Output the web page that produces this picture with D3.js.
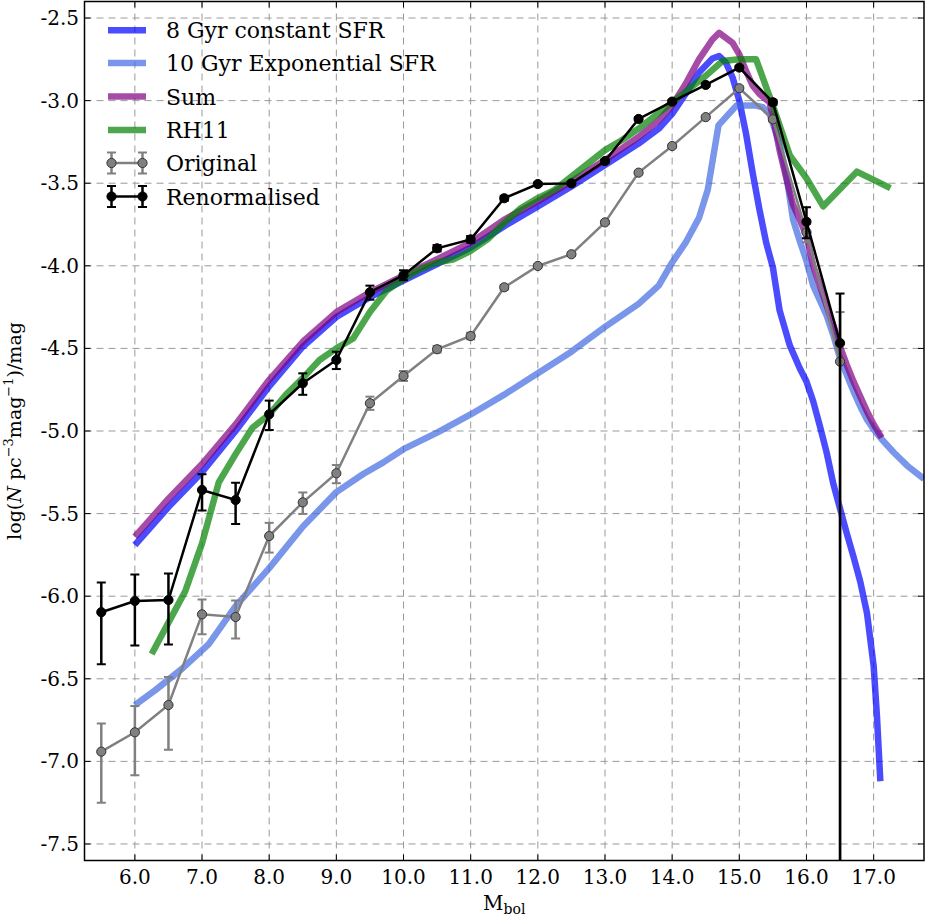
<!DOCTYPE html>
<html><head><meta charset="utf-8">
<script src="https://cdn.jsdelivr.net/npm/d3@7"></script>
<style>
body{margin:0;background:#fff}
svg{display:block}
</style>
</head><body>
<svg id="chart" width="926" height="917" font-family="DejaVu Serif"></svg>
<script>
// ---------- data ----------
const xTickValues = [6,7,8,9,10,11,12,13,14,15,16,17];
const yTickValues = [-2.5,-3.0,-3.5,-4.0,-4.5,-5.0,-5.5,-6.0,-6.5,-7.0,-7.5];

const seriesNames = ["8 Gyr constant SFR","10 Gyr Exponential SFR","Sum","RH11","Original","Renormalised"];

// observed luminosity function bins
const obsMag = [5.5,6.0,6.5,7.0,7.5,8.0,8.5,9.0,9.5,10.0,10.5,11.0,11.5,12.0,12.5,13.0,13.5,14.0,14.5,15.0,15.5,16.0,16.5];

const renormY      = [-6.097,-6.029,-6.023,-5.357,-5.418,-4.899,-4.711,-4.570,-4.160,-4.057,-3.894,-3.840,-3.591,-3.505,-3.501,-3.366,-3.111,-3.006,-2.905,-2.800,-3.010,-3.733,-4.468];
const renormErrUp  = [0.18,0.16,0.16,0.095,0.105,0.083,0.06,0.05,0.04,0.03,0.02,0.02,0.015,0.01,0.01,0.01,0.01,0.01,0.01,0.01,0.015,0.087,0.30];
const renormErrDn  = [0.315,0.27,0.27,0.125,0.145,0.095,0.07,0.055,0.045,0.03,0.02,0.02,0.015,0.01,0.01,0.01,0.01,0.01,0.01,0.01,0.015,0.10,5.0];

const origY        = [-6.941,-6.824,-6.659,-6.110,-6.126,-5.636,-5.432,-5.256,-4.832,-4.667,-4.505,-4.425,-4.130,-4.001,-3.930,-3.737,-3.436,-3.275,-3.100,-2.925,-3.113,-3.797,-4.580];
const origErrUp    = [0.17,0.16,0.17,0.09,0.10,0.08,0.06,0.05,0.04,0.03,0.02,0.02,0.015,0.01,0.01,0.01,0.01,0.01,0.01,0.01,0.015,0.05,0.30];
const origErrDn    = [0.31,0.26,0.27,0.12,0.13,0.10,0.07,0.06,0.04,0.03,0.02,0.02,0.015,0.01,0.01,0.01,0.01,0.01,0.01,0.01,0.015,0.06,5.0];

// model: 8 Gyr constant SFR
const constMag = [6.0,6.5,7.0,7.5,8.0,8.5,9.0,9.5,10.0,10.5,11.0,11.5,12.0,12.5,13.0,13.5,13.8,14.0,14.2,14.4,14.6,14.7,14.8,14.9,15.0,15.1,15.2,15.3,15.4,15.5,15.6,15.75,15.9,16.0,16.1,16.2,16.3,16.4,16.5,16.6,16.7,16.8,16.9,17.0,17.05,17.1];
const constY   = [-5.69,-5.46,-5.25,-5.00,-4.73,-4.49,-4.31,-4.19,-4.09,-3.99,-3.89,-3.76,-3.64,-3.52,-3.39,-3.26,-3.17,-3.08,-2.96,-2.83,-2.745,-2.73,-2.77,-2.86,-3.00,-3.20,-3.44,-3.66,-3.86,-4.01,-4.27,-4.48,-4.62,-4.70,-4.82,-4.97,-5.13,-5.32,-5.47,-5.62,-5.76,-5.91,-6.10,-6.42,-6.73,-7.12];

// model: 10 Gyr exponential SFR
const expMag = [6.0,6.3,6.7,7.1,7.5,8.0,8.5,9.0,9.4,9.7,10.0,10.5,11.0,11.5,12.0,12.5,13.0,13.5,13.8,14.0,14.2,14.4,14.53,14.69,14.8,14.96,15.1,15.25,15.35,15.45,15.6,15.7,15.8,15.9,16.0,16.1,16.2,16.3,16.4,16.5,16.6,16.7,16.8,16.9,17.0,17.12,17.3,17.5,17.75];
const expY   = [-6.66,-6.57,-6.44,-6.29,-6.06,-5.83,-5.58,-5.37,-5.26,-5.19,-5.11,-5.01,-4.90,-4.78,-4.65,-4.52,-4.37,-4.23,-4.12,-3.98,-3.86,-3.71,-3.54,-3.15,-3.10,-3.03,-3.03,-3.03,-3.04,-3.08,-3.26,-3.45,-3.72,-3.85,-3.97,-4.12,-4.21,-4.30,-4.42,-4.56,-4.66,-4.76,-4.85,-4.93,-4.99,-5.05,-5.13,-5.21,-5.29];

// model: sum
const sumMag = [6.0,6.5,7.0,7.5,8.0,8.5,9.0,9.5,10.0,10.5,11.0,11.5,12.0,12.5,13.0,13.5,13.8,14.0,14.2,14.4,14.6,14.7,14.8,14.9,15.0,15.1,15.2,15.3,15.45,15.5,15.6,15.7,15.8,15.9,16.0,16.1,16.2,16.3,16.4,16.5,16.6,16.7,16.8,16.9,17.0,17.12];
const sumY   = [-5.64,-5.41,-5.20,-4.96,-4.69,-4.46,-4.28,-4.16,-4.06,-3.96,-3.86,-3.72,-3.61,-3.49,-3.36,-3.22,-3.12,-3.03,-2.90,-2.75,-2.63,-2.59,-2.62,-2.65,-2.72,-2.82,-2.91,-2.96,-3.01,-3.10,-3.30,-3.47,-3.63,-3.72,-3.82,-4.00,-4.12,-4.24,-4.36,-4.49,-4.60,-4.70,-4.79,-4.88,-4.96,-5.04];

// RH11
const rhMag = [6.25,6.5,6.75,7.0,7.25,7.5,7.75,8.0,8.25,8.5,8.75,9.0,9.25,9.5,9.75,10.0,10.25,10.5,10.75,11.0,11.25,11.5,11.75,12.0,12.25,12.5,12.75,13.0,13.25,13.5,13.75,14.0,14.25,14.5,14.75,15.0,15.25,15.5,15.75,16.0,16.25,16.75,17.25];
const rhY   = [-6.35,-6.16,-5.97,-5.68,-5.31,-5.14,-4.98,-4.90,-4.78,-4.68,-4.57,-4.50,-4.44,-4.28,-4.15,-4.08,-4.02,-3.98,-3.96,-3.91,-3.84,-3.74,-3.65,-3.59,-3.54,-3.46,-3.38,-3.30,-3.24,-3.17,-3.09,-3.01,-2.93,-2.85,-2.76,-2.75,-2.75,-3.03,-3.33,-3.47,-3.64,-3.43,-3.53];

// ---------- layout ----------
const W = 926, H = 917;
const L = 84.5, R = 924, T = 1.5, B = 860.5;
const FONT = "DejaVu Serif";
const svg = d3.select("#chart");
const x = d3.scaleLinear().domain([5.25, 17.75]).range([L, R]);
const y = d3.scaleLinear().domain([-7.6, -2.4]).range([B, T]);

svg.append("rect").attr("width",W).attr("height",H).attr("fill","#fff");

svg.append("clipPath").attr("id","clip").append("rect")
  .attr("x",L).attr("y",T).attr("width",R-L).attr("height",B-T);

// grid
const grid = svg.append("g").attr("clip-path","url(#clip)");
grid.selectAll(".gx").data(xTickValues).join("line")
  .attr("x1",d=>x(d)).attr("x2",d=>x(d)).attr("y1",T).attr("y2",B)
  .attr("stroke","#9a9a9a").attr("stroke-width",1).attr("stroke-dasharray","7,5");
grid.selectAll(".gy").data(yTickValues).join("line")
  .attr("y1",d=>y(d)).attr("y2",d=>y(d)).attr("x1",L).attr("x2",R)
  .attr("stroke","#9a9a9a").attr("stroke-width",1).attr("stroke-dasharray","7,5");

// model lines
const plot = svg.append("g").attr("clip-path","url(#clip)");
const line = d3.line().x(d=>x(d[0])).y(d=>y(d[1]));
const models = [
  {mag:constMag, val:constY, color:"#0000ff", op:0.7},
  {mag:expMag,   val:expY,   color:"#4169e1", op:0.7},
  {mag:sumMag,   val:sumY,   color:"#800080", op:0.7},
  {mag:rhMag,    val:rhY,    color:"#008000", op:0.7}
];
models.forEach(m=>{
  plot.append("path").datum(d3.zip(m.mag, m.val))
    .attr("d",line).attr("fill","none").attr("stroke",m.color)
    .attr("stroke-opacity",m.op).attr("stroke-width",6.5)
    .attr("stroke-linejoin","round");
});

// error-bar series
function errSeries(vals, up, dn, color, fill, edge){
  const g = plot.append("g");
  const pts = obsMag.map((m,i)=>({m, v:vals[i], u:up[i], d:dn[i]}));
  g.selectAll(".eb").data(pts).join("line")
    .attr("x1",d=>x(d.m)).attr("x2",d=>x(d.m))
    .attr("y1",d=>y(d.v+d.u)).attr("y2",d=>y(d.v-d.d))
    .attr("stroke",color).attr("stroke-width",2.5);
  g.selectAll(".cu").data(pts).join("line")
    .attr("x1",d=>x(d.m)-4.5).attr("x2",d=>x(d.m)+4.5)
    .attr("y1",d=>y(d.v+d.u)).attr("y2",d=>y(d.v+d.u))
    .attr("stroke",color).attr("stroke-width",2);
  g.selectAll(".cd").data(pts).join("line")
    .attr("x1",d=>x(d.m)-4.5).attr("x2",d=>x(d.m)+4.5)
    .attr("y1",d=>y(d.v-d.d)).attr("y2",d=>y(d.v-d.d))
    .attr("stroke",color).attr("stroke-width",2);
  g.append("path").datum(pts.map(p=>[p.m,p.v])).attr("d",line)
    .attr("fill","none").attr("stroke",color).attr("stroke-width",2.5);
  g.selectAll(".mk").data(pts).join("circle")
    .attr("cx",d=>x(d.m)).attr("cy",d=>y(d.v)).attr("r",4.6)
    .attr("fill",fill).attr("stroke",edge).attr("stroke-width",1);
}
errSeries(origY, origErrUp, origErrDn, "#808080", "#808080", "#333");
errSeries(renormY, renormErrUp, renormErrDn, "#000", "#000", "#000");

// spines
svg.append("rect").attr("x",L).attr("y",T).attr("width",R-L).attr("height",B-T)
  .attr("fill","none").attr("stroke","#000").attr("stroke-width",1.5);

// ticks (inward, all sides)
const tk = svg.append("g").attr("stroke","#000").attr("stroke-width",1);
xTickValues.forEach(v=>{
  tk.append("line").attr("x1",x(v)).attr("x2",x(v)).attr("y1",B).attr("y2",B-6);
  tk.append("line").attr("x1",x(v)).attr("x2",x(v)).attr("y1",T).attr("y2",T+6);
});
yTickValues.forEach(v=>{
  tk.append("line").attr("y1",y(v)).attr("y2",y(v)).attr("x1",L).attr("x2",L+6);
  tk.append("line").attr("y1",y(v)).attr("y2",y(v)).attr("x1",R).attr("x2",R-6);
});

// tick labels
svg.selectAll(".xl").data(xTickValues).join("text")
  .attr("font-family",FONT)
  .attr("x",d=>x(d)).attr("y",884).attr("text-anchor","middle")
  .attr("font-size",20).text(d=>d3.format(".1f")(d));
svg.selectAll(".yl").data(yTickValues).join("text")
  .attr("font-family",FONT)
  .attr("x",79).attr("y",d=>y(d)+7).attr("text-anchor","end")
  .attr("font-size",20).text(d=>d3.format(".1f")(d).replace("−","-"));

// axis labels
const xl = svg.append("text").attr("font-family",FONT)
  .attr("x",(L+R)/2).attr("y",910).attr("text-anchor","middle").attr("font-size",20);
xl.append("tspan").text("M");
xl.append("tspan").attr("font-size",14).attr("dy",4).text("bol");

const yl = svg.append("text").attr("font-family",FONT)
  .attr("transform",`translate(21,${(T+B)/2}) rotate(-90)`)
  .attr("text-anchor","middle").attr("font-size",19);
yl.append("tspan").text("log(");
yl.append("tspan").attr("font-style","italic").text("N");
yl.append("tspan").text(" pc");
yl.append("tspan").attr("font-size",13).attr("dy",-8).text("−3");
yl.append("tspan").attr("dy",8).text("mag");
yl.append("tspan").attr("font-size",13).attr("dy",-8).text("−1");
yl.append("tspan").attr("dy",8).text(")/mag");

// legend
const leg = svg.append("g");
const rowY = [30.3, 63, 96.5, 130, 163, 196.5];
const legColors = [["#0000ff",0.7],["#4169e1",0.7],["#800080",0.7],["#008000",0.7]];
legColors.forEach((c,i)=>{
  leg.append("line").attr("x1",108).attr("x2",146).attr("y1",rowY[i]).attr("y2",rowY[i])
    .attr("stroke",c[0]).attr("stroke-opacity",c[1]).attr("stroke-width",6.5);
});
[["#808080","#808080","#333"],["#000","#000","#000"]].forEach((c,k)=>{
  const ry = rowY[4+k];
  leg.append("line").attr("x1",111.5).attr("x2",142.5).attr("y1",ry).attr("y2",ry)
    .attr("stroke",c[0]).attr("stroke-width",2.5);
  [111.5,142.5].forEach(px=>{
    leg.append("line").attr("x1",px).attr("x2",px).attr("y1",ry-10.5).attr("y2",ry+10.5)
      .attr("stroke",c[0]).attr("stroke-width",2.5);
    leg.append("line").attr("x1",px-4.5).attr("x2",px+4.5).attr("y1",ry-10.5).attr("y2",ry-10.5)
      .attr("stroke",c[0]).attr("stroke-width",2);
    leg.append("line").attr("x1",px-4.5).attr("x2",px+4.5).attr("y1",ry+10.5).attr("y2",ry+10.5)
      .attr("stroke",c[0]).attr("stroke-width",2);
    leg.append("circle").attr("cx",px).attr("cy",ry).attr("r",4.6)
      .attr("fill",c[1]).attr("stroke",c[2]).attr("stroke-width",1);
  });
});
leg.selectAll(".lt").data(seriesNames).join("text")
  .attr("font-family",FONT)
  .attr("x",166).attr("y",(d,i)=>rowY[i]+8).attr("font-size",22).text(d=>d);
</script>
</body></html>
